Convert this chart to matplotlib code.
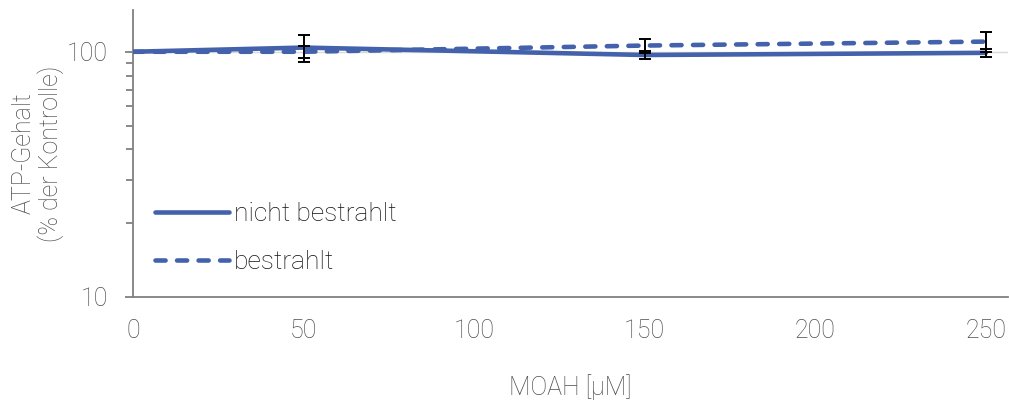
import matplotlib.pyplot as plt
from matplotlib.ticker import FixedLocator, NullFormatter

plt.rcParams['font.family'] = ['Roboto', 'DejaVu Sans']
plt.rcParams['font.weight'] = 'light'
plt.rcParams['axes.labelweight'] = 'light'

# Data
moah = [0, 50, 150, 250]
nicht_bestrahlt = [100, 104, 97, 99]
nicht_bestrahlt_err = [0, 13, 4, 4]
bestrahlt = [100, 100, 106, 110]
bestrahlt_err = [0, 5.5, 7, 10]

blue = '#4462AC'
grey = '#4d4d4d'

fig = plt.figure(figsize=(10.09, 4.01), dpi=100)
ax = fig.add_axes([133 / 1009, 1 - 297 / 401, (1008 - 133) / 1009, (297 - 10) / 401])

ax.axhline(100, color='#D9D9D9', lw=1, zorder=0)

ax.plot(moah, nicht_bestrahlt, color=blue, lw=3.3, solid_capstyle='round',
        label='nicht bestrahlt', zorder=3)
ax.plot(moah, bestrahlt, color=blue, lw=3.3, dashes=(2.2, 2.5),
        dash_capstyle='round', label='bestrahlt', zorder=3)
ax.errorbar(moah[1:], nicht_bestrahlt[1:], yerr=nicht_bestrahlt_err[1:], fmt='none',
            ecolor='black', elinewidth=1.4, capsize=4.5, capthick=1.4, zorder=4)
ax.errorbar(moah[1:], bestrahlt[1:], yerr=bestrahlt_err[1:], fmt='none',
            ecolor='black', elinewidth=1.4, capsize=4.5, capthick=1.4, zorder=4)

ax.set_yscale('log')
ax.set_ylim(10, 148)
ax.set_xlim(0, 256.5)
ax.yaxis.set_major_locator(FixedLocator([10, 100]))
ax.yaxis.set_minor_locator(FixedLocator([20, 30, 40, 50, 60, 70, 80, 90]))
ax.yaxis.set_minor_formatter(NullFormatter())
ax.set_yticklabels(['10', '100'])
ax.set_xticks([0, 50, 100, 150, 200, 250])

for side in ['top', 'right']:
    ax.spines[side].set_visible(False)
for side in ['left', 'bottom']:
    ax.spines[side].set_color('#808080')
    ax.spines[side].set_linewidth(1.3)

ax.tick_params(axis='y', which='major', direction='out', length=6, width=1.3,
               color='#808080', labelcolor=grey, labelsize=18, pad=12)
ax.tick_params(axis='y', which='minor', direction='out', length=5, width=1.3,
               color='#808080')
ax.tick_params(axis='x', length=0, labelcolor=grey, labelsize=18, pad=16)

ax.set_xlabel('MOAH [µM]', color=grey, fontsize=18, labelpad=22)
ax.set_ylabel('ATP-Gehalt\n(% der Kontrolle)', color=grey, fontsize=18, labelpad=2,
              linespacing=1.1)

leg = ax.legend(loc='upper left', bbox_to_anchor=(0.025, 0.33), frameon=False,
                fontsize=19, handlelength=2.8, handletextpad=0.2, labelspacing=0.9,
                borderpad=0, borderaxespad=0)
for t in leg.get_texts():
    t.set_color('#111111')

fig.savefig('out.png', dpi=100)
